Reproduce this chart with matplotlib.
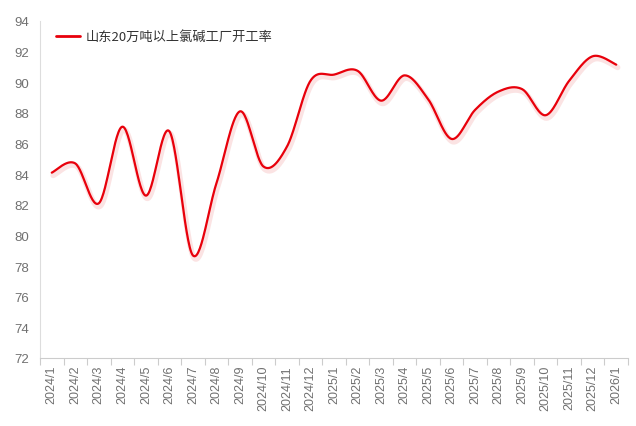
import numpy as np
import matplotlib
matplotlib.use("Agg")
import matplotlib.pyplot as plt
import matplotlib.patheffects as pe

plt.rcParams['font.family'] = ['Liberation Sans', 'Noto Sans CJK SC', 'DejaVu Sans']

months = ['2024/1', '2024/2', '2024/3', '2024/4', '2024/5', '2024/6', '2024/7',
          '2024/8', '2024/9', '2024/10', '2024/11', '2024/12', '2025/1', '2025/2',
          '2025/3', '2025/4', '2025/5', '2025/6', '2025/7', '2025/8', '2025/9',
          '2025/10', '2025/11', '2025/12', '2026/1']
rate = [84.1, 84.7, 82.1, 87.1, 82.6, 86.8, 78.7, 83.4, 88.1, 84.5, 85.8, 90.1,
        90.5, 90.75, 88.8, 90.45, 88.9, 86.3, 88.2, 89.4, 89.55, 87.85, 90.1,
        91.7, 91.15]
series_name = '山东20万吨以上氯碱工厂开工率'
yticks = [72, 74, 76, 78, 80, 82, 84, 86, 88, 90, 92, 94]


def catmull_rom(x, y, n=30):
    # smooth curve through every point
    x = np.asarray(x, float); y = np.asarray(y, float)
    px = np.concatenate([[x[0]], x, [x[-1]]])
    py = np.concatenate([[y[0]], y, [y[-1]]])
    xs, ys = [], []
    t = np.linspace(0, 1, n, endpoint=False)
    for i in range(1, len(px) - 2):
        for arr, out in ((px, xs), (py, ys)):
            p0, p1, p2, p3 = arr[i-1], arr[i], arr[i+1], arr[i+2]
            out.append(0.5 * ((2*p1) + (-p0 + p2)*t + (2*p0 - 5*p1 + 4*p2 - p3)*t**2
                              + (-p0 + 3*p1 - 3*p2 + p3)*t**3))
    xs.append([x[-1]]); ys.append([y[-1]])
    return np.concatenate(xs), np.concatenate(ys)


fig = plt.figure(figsize=(6.36, 4.27), dpi=100, facecolor='white')
ax = fig.add_axes([40/636, 68/427, 588/636, 337/427])

xpos = np.arange(len(months))
sx, sy = catmull_rom(xpos, rate)
ax.plot(sx, sy, color='#e8000b', lw=1.6, solid_capstyle='round', label=series_name,
        path_effects=[pe.SimpleLineShadow(offset=(1.0, -2.0), shadow_color='#f4b0b0', alpha=0.35, linewidth=4),
                      pe.Normal()])

ax.set_xlim(-0.5, len(months) - 0.5)
ax.set_ylim(72, 94)
ax.set_yticks(yticks)
ax.set_yticklabels([str(v) for v in yticks], color='#707070', fontsize=9.5)
ax.tick_params(axis='y', length=0, pad=8)

ax.set_xticks(np.arange(len(months) + 1) - 0.5, minor=False)
ax.set_xticklabels([])
ax.set_xticks(xpos, minor=True)
ax.set_xticklabels(months, minor=True, rotation=90, color='#707070', fontsize=9)
ax.tick_params(axis='x', which='major', length=5, color='#cccccc', width=0.8)
ax.tick_params(axis='x', which='minor', length=0, pad=5)

for side in ('top', 'right'):
    ax.spines[side].set_visible(False)
ax.spines['left'].set_color('#dddddd')
ax.spines['bottom'].set_color('#cccccc')
ax.spines['left'].set_linewidth(0.8)
ax.spines['bottom'].set_linewidth(0.8)

leg = ax.legend(loc='upper left', bbox_to_anchor=(0.012, 1.0), frameon=False,
                handlelength=1.8, handletextpad=0.4, borderaxespad=0.3,
                prop={'family': ['Noto Sans CJK SC', 'DejaVu Sans'], 'size': 9.5})
for txt in leg.get_texts():
    txt.set_color('#333333')
for h in leg.get_lines():
    h.set_path_effects([])
    h.set_linewidth(2)

fig.savefig('out.png', dpi=100, facecolor='white')
